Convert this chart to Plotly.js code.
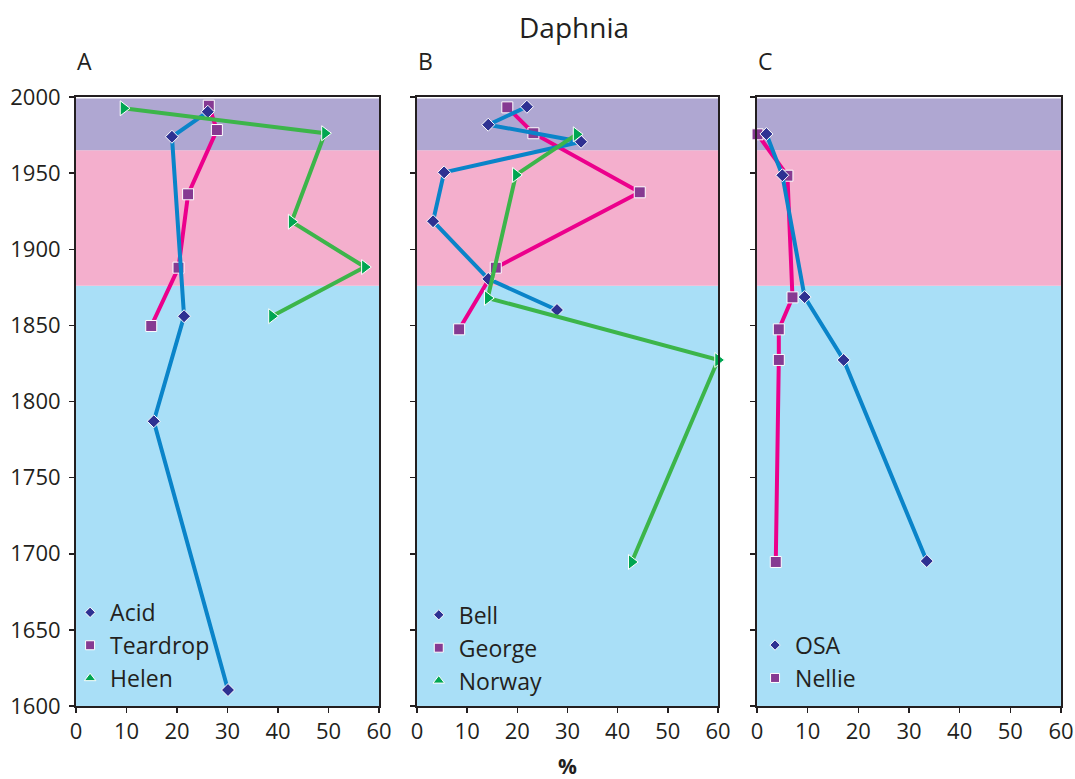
<!DOCTYPE html>
<html>
<head>
<meta charset="utf-8">
<script src="https://cdn.plot.ly/plotly-3.0.1.min.js"></script>
<style>
  html, body { margin: 0; padding: 0; background: #ffffff; }
  #chart { width: 1075px; height: 779px; }
</style>
</head>
<body>
<div id="chart"></div>
<script>
// Daphnia abundance (%) by sediment date for each lake
const acidYears      = [1990.3, 1973.9, 1856.0, 1787.0, 1610.5];
const acidPct        = [26.1, 19.0, 21.4, 15.4, 30.1];
const teardropYears  = [1994.3, 1978.3, 1936.1, 1887.9, 1849.6];
const teardropPct    = [26.3, 27.9, 22.2, 20.3, 14.9];
const helenYears     = [1992.6, 1976.2, 1918.1, 1888.3, 1856.0];
const helenPct       = [9.4, 49.3, 42.7, 57.2, 38.8];

const bellYears      = [1993.6, 1981.8, 1970.6, 1950.5, 1918.4, 1880.5, 1860.1];
const bellPct        = [21.9, 14.2, 32.7, 5.4, 3.2, 14.2, 27.9];
const georgeYears    = [1993.2, 1976.2, 1937.4, 1887.9, 1847.4];
const georgePct      = [18.0, 23.2, 44.4, 15.7, 8.4];
const norwayYears    = [1975.5, 1948.8, 1868.0, 1827.3, 1694.6];
const norwayPct      = [31.8, 19.7, 14.1, 60.0, 42.8];

const osaYears       = [1975.7, 1948.6, 1868.6, 1827.3, 1695.2];
const osaPct         = [1.85, 5.0, 9.4, 17.1, 33.5];
const nellieYears    = [1975.5, 1948.3, 1868.4, 1847.4, 1827.3, 1694.6];
const nelliePct      = [0.1, 6.0, 7.0, 4.3, 4.3, 3.7];

// Period bands (year boundaries, oldest to youngest)
const bandEdges  = [1600, 1876, 1965, 1999];
const bandColors = ['#a9dff7', '#f4afcd', '#afa7d2'];

const panelLabels = ['A', 'B', 'C'];
const xTicks = [0, 10, 20, 30, 40, 50, 60];
const yTicks = [1600, 1650, 1700, 1750, 1800, 1850, 1900, 1950, 2000];

const FONT = 'Open Sans, Noto Sans, sans-serif';
const INK = '#231f20';

const style = {
  blue:   { line: '#0a84c9', marker: '#2e3192', symbol: 'diamond',        size: 10, legendSymbol: 'diamond',     legendSize: 8 },
  pink:   { line: '#ec008c', marker: '#863a92', symbol: 'square',         size: 11, legendSymbol: 'square',      legendSize: 9 },
  green:  { line: '#3cb54a', marker: '#00a651', symbol: 'triangle-right', size: 13, legendSymbol: 'triangle-up', legendSize: 10 }
};

function series(name, years, pct, st, axisIdx) {
  const sfx = axisIdx === 1 ? '' : String(axisIdx);
  return {
    type: 'scatter', mode: 'lines+markers', name: name,
    x: pct, y: years, xaxis: 'x' + sfx, yaxis: 'y' + sfx,
    line: { color: st.line, width: 4 },
    marker: { color: st.marker, symbol: st.symbol, size: st.size, line: { color: '#ffffff', width: 1 } },
    cliponaxis: false, showlegend: false, hoverinfo: 'x+y'
  };
}
function legendEntry(name, st, axisIdx) {
  const sfx = axisIdx === 1 ? '' : String(axisIdx);
  return {
    type: 'scatter', mode: 'markers', name: name,
    x: [null], y: [null], xaxis: 'x' + sfx, yaxis: 'y' + sfx,
    marker: { color: st.marker, symbol: st.legendSymbol, size: st.legendSize, line: { color: '#ffffff', width: 1 } },
    showlegend: true, legend: axisIdx === 1 ? 'legend' : 'legend' + axisIdx
  };
}

const traces = [
  series('Teardrop', teardropYears, teardropPct, style.pink, 1),
  series('Acid', acidYears, acidPct, style.blue, 1),
  series('Helen', helenYears, helenPct, style.green, 1),
  series('George', georgeYears, georgePct, style.pink, 2),
  series('Bell', bellYears, bellPct, style.blue, 2),
  series('Norway', norwayYears, norwayPct, style.green, 2),
  series('Nellie', nellieYears, nelliePct, style.pink, 3),
  series('OSA', osaYears, osaPct, style.blue, 3),
  legendEntry('Acid', style.blue, 1),
  legendEntry('Teardrop', style.pink, 1),
  legendEntry('Helen', style.green, 1),
  legendEntry('Bell', style.blue, 2),
  legendEntry('George', style.pink, 2),
  legendEntry('Norway', style.green, 2),
  legendEntry('OSA', style.blue, 3),
  legendEntry('Nellie', style.pink, 3)
];

const domains = [[0, 0.3076], [0.3462, 0.6518], [0.6914, 1.0]];

function xAxis(i) {
  return {
    domain: domains[i], range: [0, 60], tickvals: xTicks,
    ticks: 'outside', ticklen: 5, tickwidth: 1.5, tickcolor: INK,
    showline: true, linecolor: INK, linewidth: 2, mirror: true,
    showgrid: false, zeroline: false,
    tickfont: { family: FONT, size: 22, color: INK },
    anchor: i === 0 ? 'y' : 'y' + (i + 1)
  };
}
function yAxis(i) {
  return {
    domain: [0, 1], range: [1600, 2000], tickvals: yTicks,
    ticks: 'outside', ticklen: 5, tickwidth: 1.5, tickcolor: INK,
    showline: true, linecolor: INK, linewidth: 2, mirror: true,
    showgrid: false, zeroline: false, showticklabels: i === 0,
    ticklabelstandoff: 4,
    tickfont: { family: FONT, size: 22, color: INK },
    anchor: i === 0 ? 'x' : 'x' + (i + 1)
  };
}

const shapes = [];
for (let p = 0; p < 3; p++) {
  const sfx = p === 0 ? '' : String(p + 1);
  for (let b = 0; b < bandColors.length; b++) {
    shapes.push({
      type: 'rect', layer: 'below', line: { width: 0 },
      xref: 'x' + sfx + ' domain', x0: 0, x1: 1,
      yref: 'y' + sfx, y0: bandEdges[b], y1: bandEdges[b + 1],
      fillcolor: bandColors[b]
    });
  }
}

const annotations = panelLabels.map((t, p) => ({
  text: t, showarrow: false,
  xref: (p === 0 ? 'x' : 'x' + (p + 1)) + ' domain', x: 0, xanchor: 'left', xshift: -1,
  yref: 'paper', y: 1, yanchor: 'middle', yshift: 36,
  font: { family: FONT, size: 23, color: INK }
}));
annotations.push({
  text: '<b>%</b>', showarrow: false,
  xref: 'x2 domain', x: 0.5, xanchor: 'center',
  yref: 'paper', y: 0, yanchor: 'middle', yshift: -60,
  font: { family: FONT, size: 21, color: INK }
});

function legendBox(x, y) {
  return {
    x: x, y: y, xanchor: 'left', yanchor: 'bottom',
    bgcolor: 'rgba(0,0,0,0)', borderwidth: 0,
    font: { family: FONT, size: 23, color: INK },
    traceorder: 'normal', itemsizing: 'trace', itemwidth: 30
  };
}

const layout = {
  width: 1075, height: 779,
  margin: { l: 76, r: 14, t: 97, b: 73 },
  paper_bgcolor: '#ffffff', plot_bgcolor: '#ffffff',
  title: {
    text: 'Daphnia', xref: 'container', x: 0.534, xanchor: 'center',
    yref: 'container', y: 1 - 28 / 779, yanchor: 'middle',
    font: { family: FONT, size: 28, color: INK }
  },
  xaxis: xAxis(0), xaxis2: xAxis(1), xaxis3: xAxis(2),
  yaxis: yAxis(0), yaxis2: yAxis(1), yaxis3: yAxis(2),
  shapes: shapes, annotations: annotations,
  legend: legendBox(-0.006, 0.010),
  legend2: legendBox(0.348, 0.006),
  legend3: legendBox(0.6894, 0.0105),
  showlegend: true
};

Plotly.newPlot('chart', traces, layout, { displayModeBar: false, staticPlot: true });
</script>
</body>
</html>
